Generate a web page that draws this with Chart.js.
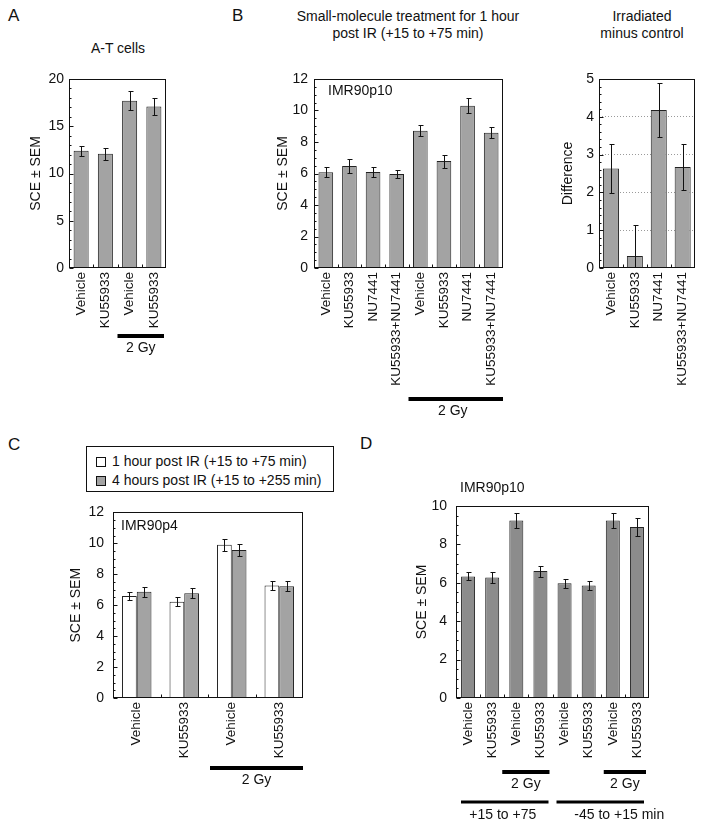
<!DOCTYPE html>
<html><head><meta charset="utf-8">
<script src="https://cdn.jsdelivr.net/npm/chart.js@4.4.1/dist/chart.umd.min.js"></script>
<style>
body{margin:0;background:#fff;width:704px;height:828px;position:relative;overflow:hidden;font-family:"Liberation Sans",Arial,Helvetica,sans-serif;color:#111}
canvas{position:absolute}
.t{position:absolute;white-space:nowrap;font-size:14px;line-height:17px}
.c{transform:translateX(-50%);text-align:center}
.L{font-size:17px;line-height:19px}
#legC{position:absolute;left:86px;top:446px;width:246px;height:44px;border:1px solid #111}
#legC .row{position:absolute;left:9px;height:17px;line-height:17px;font-size:14px;white-space:nowrap}
#legC .sw{display:inline-block;width:8px;height:8px;border:1px solid #111;margin-right:6px;vertical-align:-1px}
</style></head><body>
<div class="t L" style="left:8px;top:6px">A</div>
<div class="t c" style="left:118px;top:40px">A-T cells</div>
<div class="t L" style="left:232px;top:6px">B</div>
<div class="t c" style="left:408px;top:8px">Small-molecule treatment for 1 hour<br>post IR (+15 to +75 min)</div>
<div class="t c" style="left:642px;top:8px">Irradiated<br>minus control</div>
<div class="t L" style="left:8px;top:435px">C</div>
<div class="t L" style="left:360px;top:434px">D</div>
<div id="legC"></div>
<canvas id="cA"></canvas>
<canvas id="cB"></canvas>
<canvas id="cDiff"></canvas>
<canvas id="cC"></canvas>
<canvas id="cD"></canvas>
<script>
// ---------- data ----------
const catsA = ['Vehicle','KU55933','Vehicle','KU55933'];
const valsA = [12.4, 12.1, 17.7, 17.1];
const errA  = [0.55, 0.65, 1.0, 0.88];

const catsB = ['Vehicle','KU55933','NU7441','KU55933+NU7441','Vehicle','KU55933','NU7441','KU55933+NU7441'];
const valsB = [6.08, 6.48, 6.1, 5.97, 8.71, 6.79, 10.3, 8.59];
const errB  = [0.32, 0.44, 0.32, 0.25, 0.35, 0.41, 0.47, 0.34];

const catsDiff = ['Vehicle','KU55933','NU7441','KU55933+NU7441'];
const valsDiff = [2.63, 0.32, 4.18, 2.67];
const errDiff  = [0.65, 0.81, 0.72, 0.61];

const catsC = ['Vehicle','KU55933','Vehicle','KU55933'];
const seriesC = ['1 hour post IR (+15 to +75 min)','4 hours post IR (+15 to +255 min)'];
const valsC1 = [6.59, 6.23, 9.91, 7.27];
const errC1  = [0.27, 0.31, 0.38, 0.30];
const valsC4 = [6.87, 6.78, 9.57, 7.23];
const errC4  = [0.32, 0.32, 0.41, 0.32];

const catsD = ['Vehicle','KU55933','Vehicle','KU55933','Vehicle','KU55933','Vehicle','KU55933'];
const valsD = [6.33, 6.28, 9.25, 6.61, 5.98, 5.86, 9.25, 8.9];
const errD  = [0.21, 0.30, 0.41, 0.29, 0.23, 0.21, 0.37, 0.45];

// ---------- styling ----------
const GRAY = '#a3a3a3', DGRAY = '#8c8c8c', EDGE = '#222';
Chart.defaults.font.family = '"Liberation Sans", Arial, Helvetica, sans-serif';
Chart.defaults.font.size = 14;
Chart.defaults.color = '#111';

const panelPlugin = {
  id: 'panel',
  afterDatasetsDraw(chart, args, opts) {
    const {ctx, chartArea: a, scales: {x, y}} = chart;
    const L = Math.round(a.left) + 0.5, R = Math.round(a.right) - 0.5;
    const T = Math.round(a.top) + 0.5, B = Math.round(a.bottom) - 0.5;
    ctx.save();
    ctx.strokeStyle = '#111'; ctx.lineWidth = 1;
    // error bars
    ctx.save();
    ctx.beginPath(); ctx.rect(a.left, a.top, a.right - a.left, a.bottom - a.top); ctx.clip();
    chart.data.datasets.forEach((ds, di) => {
      if (!ds.errors) return;
      chart.getDatasetMeta(di).data.forEach((bar, i) => {
        const v = ds.data[i], e = ds.errors[i];
        const bx = Math.round(bar.x) + 0.5;
        const yt = Math.round(y.getPixelForValue(v + e)) + 0.5;
        const yb = Math.round(y.getPixelForValue(v - e)) + 0.5;
        ctx.beginPath();
        ctx.moveTo(bx, yt); ctx.lineTo(bx, yb);
        ctx.moveTo(bx - 2, yt); ctx.lineTo(bx + 3, yt);
        ctx.moveTo(bx - 2, yb); ctx.lineTo(bx + 3, yb);
        ctx.stroke();
      });
    });
    ctx.restore();
    // frame
    ctx.strokeRect(L, T, R - L, B - T);
    // inner y ticks
    const step = opts.step, minor = opts.minor;
    const n = Math.round((y.max - y.min) / minor);
    ctx.beginPath();
    for (let k = 0; k <= n; k++) {
      const v = y.min + k * minor;
      const major = Math.abs(v / step - Math.round(v / step)) < 1e-6;
      const py = Math.round(y.getPixelForValue(v)) + 0.5;
      ctx.moveTo(L, py); ctx.lineTo(L + (major ? 4 : 2), py);
    }
    // category boundary ticks on bottom
    const cnt = chart.data.labels.length;
    for (let i = 1; i < cnt; i++) {
      const bx = Math.round((x.getPixelForValue(i - 1) + x.getPixelForValue(i)) / 2) + 0.5;
      ctx.moveTo(bx, B); ctx.lineTo(bx, B - 3);
    }
    ctx.stroke();
    // inner label
    if (opts.inner) {
      ctx.fillStyle = '#111';
      ctx.font = '14px "Liberation Sans", Arial, sans-serif';
      ctx.textAlign = 'left'; ctx.textBaseline = 'middle';
      ctx.fillText(opts.inner.text, a.left + opts.inner.dx, a.top + opts.inner.dy);
    }
    // treatment brackets
    const cw = x.getPixelForValue(1) - x.getPixelForValue(0);
    (opts.brackets || []).forEach(b => {
      const l = x.getPixelForValue(b.from) - cw / 2 + (b.inL || 0);
      const r = x.getPixelForValue(b.to) + cw / 2 - (b.inR || 0);
      ctx.fillStyle = '#000';
      ctx.fillRect(l, a.bottom + b.dy - b.thick / 2, r - l, b.thick);
      ctx.font = '14px "Liberation Sans", Arial, sans-serif';
      ctx.textAlign = 'center'; ctx.textBaseline = 'middle';
      ctx.fillStyle = '#111';
      ctx.fillText(b.text, (l + r) / 2 + (b.tdx || 0), a.bottom + b.tdy);
    });
    ctx.restore();
  }
};

function makeChart(id, box, area, cfg) {
  const cv = document.getElementById(id);
  cv.width = box.w; cv.height = box.h;
  cv.style.left = box.x + 'px'; cv.style.top = box.y + 'px';
  cv.style.width = box.w + 'px'; cv.style.height = box.h + 'px';
  const pl = cfg.titleX - box.x - 8.4;
  const yw = area.l - box.x - pl;
  const pad = {left: pl, top: area.t - box.y, right: box.x + box.w - area.r,
               bottom: box.y + box.h - area.b - cfg.xh};
  return new Chart(cv, {
    type: 'bar',
    data: {labels: cfg.labels, datasets: cfg.datasets},
    options: {
      responsive: false, animation: false, devicePixelRatio: 1,
      layout: {padding: pad},
      plugins: {legend: {display: false}, tooltip: {enabled: false}, panel: cfg.panel},
      scales: {
        x: {
          grid: {display: false, drawTicks: false}, border: {display: false},
          ticks: {minRotation: 90, maxRotation: 90, autoSkip: false, padding: 4, font: {size: 13.5}},
          afterFit(s) { s.height = cfg.xh; }
        },
        y: {
          min: 0, max: cfg.max,
          ticks: {stepSize: cfg.step, padding: cfg.tpad, font: {size: 14}},
          grid: cfg.grid || {display: false, drawTicks: false},
          border: {display: false, dash: [1, 2]},
          title: {display: true, text: 'SCE ± SEM', font: {size: 14}, padding: 0, ...(cfg.ytitle || {})},
          afterFit(s) { s.width = yw; }
        }
      }
    },
    plugins: [panelPlugin]
  });
}

function bars(data, errors, color, bp, cp) {
  return {data, errors, backgroundColor: color, borderColor: EDGE, borderWidth: 1,
          barPercentage: bp, categoryPercentage: cp, borderSkipped: 'bottom'};
}

// Panel A
makeChart('cA', {x: 0, y: 60, w: 200, h: 300}, {l: 69, t: 79, r: 166, b: 268}, {
  labels: catsA, datasets: [bars(valsA, errA, GRAY, 0.62, 1)],
  max: 20, step: 5, tpad: 5, titleX: 36, xh: 62,
  panel: {step: 5, minor: 1,
    brackets: [{from: 2, to: 3, dy: 68, thick: 4, inL: 0, inR: 2, text: '2 Gy', tdy: 80}]}
});

// Panel B
makeChart('cB', {x: 230, y: 60, w: 290, h: 360}, {l: 314, t: 79, r: 503, b: 268}, {
  labels: catsB, datasets: [bars(valsB, errB, GRAY, 0.62, 1)],
  max: 12, step: 2, tpad: 6, titleX: 283, xh: 122,
  panel: {step: 2, minor: 0.5, inner: {text: 'IMR90p10', dx: 14, dy: 12},
    brackets: [{from: 4, to: 7, dy: 131, thick: 4, inL: 0, inR: 0, text: '2 Gy', tdy: 143, tdx: -3}]}
});

// Panel B difference
makeChart('cDiff', {x: 530, y: 60, w: 174, h: 340}, {l: 599, t: 79, r: 695, b: 268}, {
  labels: catsDiff, datasets: [bars(valsDiff, errDiff, GRAY, 0.67, 1)],
  max: 5, step: 1, tpad: 5, titleX: 568, xh: 126,
  ytitle: {text: 'Difference'},
  grid: {display: true, drawTicks: false, lineWidth: 1,
    color: c => (c.tick && c.tick.value > 0 && c.tick.value < 5) ? '#9a9a9a' : 'rgba(0,0,0,0)'},
  panel: {step: 1, minor: 0.2}
});

// Panel C
makeChart('cC', {x: 0, y: 495, w: 340, h: 300}, {l: 113, t: 508, r: 303, b: 698}, {
  labels: catsC,
  datasets: [
    Object.assign(bars(valsC1, errC1, '#ffffff', 1, 0.62), {label: seriesC[0]}),
    Object.assign(bars(valsC4, errC4, GRAY, 1, 0.62), {label: seriesC[1]})
  ],
  max: 12, step: 2, tpad: 9, titleX: 76, xh: 64,
  panel: {step: 2, minor: 0.5, inner: {text: 'IMR90p4', dx: 8, dy: 14},
    brackets: [{from: 2, to: 3, dy: 70, thick: 4, inL: 2, inR: 0, text: '2 Gy', tdy: 82}]}
});

// Legend for C (built from series names)
const leg = document.getElementById('legC');
[['#ffffff', seriesC[0], 6], [GRAY, seriesC[1], 25]].forEach(([col, txt, top]) => {
  const r = document.createElement('div');
  r.className = 'row'; r.style.top = top + 'px';
  r.innerHTML = '<span class="sw" style="background:' + col + '"></span>';
  r.appendChild(document.createTextNode(txt));
  leg.appendChild(r);
});

// Panel D
makeChart('cD', {x: 360, y: 470, w: 344, h: 358}, {l: 456, t: 506, r: 649, b: 698}, {
  labels: catsD, datasets: [bars(valsD, errD, DGRAY, 0.58, 1)],
  max: 10, step: 2, tpad: 9, titleX: 422, xh: 64,
  panel: {step: 2, minor: 0.5, inner: {text: 'IMR90p10', dx: 4, dy: -18},
    brackets: [
      {from: 2, to: 3, dy: 74, thick: 4, inL: -2, inR: 3, text: '2 Gy', tdy: 86},
      {from: 6, to: 7, dy: 74, thick: 4, inL: 3, inR: 3, text: '2 Gy', tdy: 86},
      {from: 0, to: 3, dy: 104, thick: 3, inL: 5, inR: 4, text: '+15 to +75', tdy: 117, tdx: -2},
      {from: 4, to: 7, dy: 104, thick: 3, inL: 4, inR: 5, text: '-45 to +15 min', tdy: 117, tdx: 19}
    ]}
});
</script>
</body></html>
